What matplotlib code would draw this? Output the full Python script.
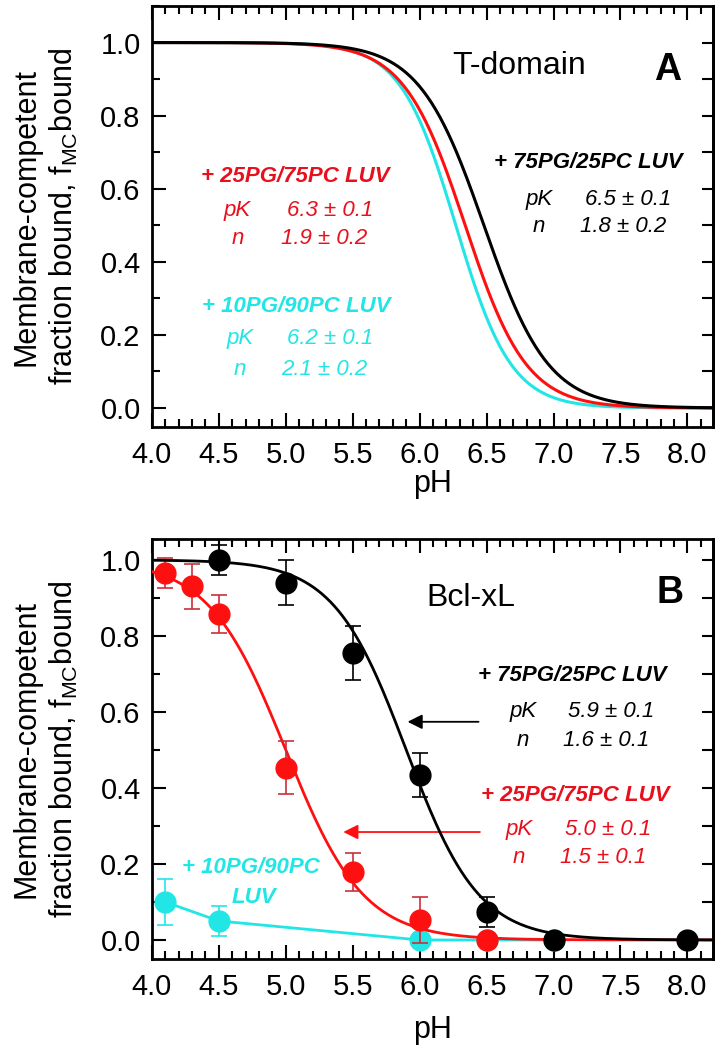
import numpy as np
import matplotlib
matplotlib.use("Agg")
import matplotlib.pyplot as plt
from matplotlib.ticker import MultipleLocator

plt.rcParams["font.family"] = ["Liberation Sans", "DejaVu Sans"]
plt.rcParams["mathtext.fontset"] = "custom"
plt.rcParams["mathtext.rm"] = "Liberation Sans"
plt.rcParams["mathtext.it"] = "Liberation Sans:italic"

RED = "#ff1010"
RED_TXT = "#e8101c"
CYAN = "#22e6e6"

# panel A: curve midpoints / slopes as drawn (T-domain)
pk_a = [6.48, 6.34, 6.27]
n_a = [1.8, 1.9, 2.1]
colors_a = ["black", RED, CYAN]

# panel B: Bcl-xL data
ph_black = [4.5, 5.0, 5.5, 6.0, 6.5, 7.0, 8.0]
f_black = [1.0, 0.94, 0.755, 0.434, 0.074, 0.0, 0.0]
e_black = [0.04, 0.06, 0.07, 0.058, 0.04, 0.0, 0.0]

ph_red = [4.1, 4.3, 4.5, 5.0, 5.5, 6.0, 6.5]
f_red = [0.966, 0.93, 0.858, 0.453, 0.18, 0.053, 0.0]
e_red = [0.04, 0.06, 0.05, 0.07, 0.05, 0.06, 0.0]

ph_cyan = [4.1, 4.5, 6.0, 6.5, 7.0]
f_cyan = [0.10, 0.05, 0.0, 0.0, 0.0]
e_cyan = [0.06, 0.04, 0.0, 0.0, 0.0]

pk_b = [5.9, 5.0]
n_b = [1.6, 1.5]


def hill(ph, pk, n):
    return 1.0 / (1.0 + 10 ** (n * (ph - pk)))


def style_axes(ax, ylim):
    ax.set_xlim(4.0, 8.19)
    ax.set_ylim(*ylim)
    ax.xaxis.set_major_locator(MultipleLocator(0.5))
    ax.xaxis.set_minor_locator(MultipleLocator(0.1))
    ax.yaxis.set_major_locator(MultipleLocator(0.2))
    ax.yaxis.set_minor_locator(MultipleLocator(0.1))
    ax.xaxis.set_major_formatter("{x:.1f}")
    ax.yaxis.set_major_formatter("{x:.1f}")
    ax.tick_params(which="both", direction="in", top=True, right=False,
                   width=1.5, labelsize=21)
    ax.tick_params(which="major", length=10)
    ax.tick_params(which="minor", length=5.5)
    ax.tick_params(axis="y", pad=8)
    ax.tick_params(axis="x", pad=10)
    for sp in ax.spines.values():
        sp.set_linewidth(2)
    sec = ax.secondary_yaxis("right")
    sec.set_yticks(np.arange(0, 1.01, 0.1))
    sec.tick_params(direction="in", length=8, width=1.5, labelright=False)
    sec.spines["right"].set_linewidth(2)
    ax.set_ylabel("Membrane-competent\nfraction bound, f$_{\\mathrm{MC}}$bound",
                  fontsize=22, linespacing=1.25)
    ax.yaxis.set_label_coords(-0.128, 0.5)


def param_block(ax, x_lab, y_lab, label, x_k, x_v, y_k, y_n, pk_txt, n_txt, color):
    ax.text(x_lab, y_lab, label, color=color, fontsize=16, fontweight="bold",
            fontstyle="italic", ha="center", va="center")
    ax.text(x_k, y_k, "pK", color=color, fontsize=16, fontstyle="italic",
            ha="center", va="center")
    ax.text(x_v, y_k, pk_txt, color=color, fontsize=16, fontstyle="italic",
            ha="center", va="center")
    ax.text(x_k, y_n, "n", color=color, fontsize=16, fontstyle="italic",
            ha="center", va="center")
    ax.text(x_v - 0.04, y_n, n_txt, color=color, fontsize=16, fontstyle="italic",
            ha="center", va="center")


fig = plt.figure(figsize=(7.23, 10.5), dpi=100)
ax_a = fig.add_axes([0.210, 0.5933, 0.776, 0.401])
ax_b = fig.add_axes([0.210, 0.0867, 0.776, 0.400])

# ---- panel A
ph = np.linspace(4.0, 8.19, 400)
for pk, n, c in zip(pk_a[::-1], n_a[::-1], colors_a[::-1]):
    ax_a.plot(ph, hill(ph, pk, n), color=c, lw=2.2)
style_axes(ax_a, (-0.052, 1.10))
ax_a.set_xlabel("pH", fontsize=22, labelpad=0)

ax_a.text(6.74, 0.937, "T-domain", fontsize=23, ha="center", va="center")
ax_a.text(7.85, 0.926, "A", fontsize=27, fontweight="bold", ha="center", va="center")
param_block(ax_a, 7.26, 0.672, "+ 75PG/25PC LUV", 6.89, 7.56, 0.570, 0.496,
            "6.5 ± 0.1", "1.8 ± 0.2", "black")
param_block(ax_a, 5.07, 0.633, "+ 25PG/75PC LUV", 4.64, 5.33, 0.54, 0.463,
            "6.3 ± 0.1", "1.9 ± 0.2", RED_TXT)
param_block(ax_a, 5.08, 0.279, "+ 10PG/90PC LUV", 4.66, 5.33, 0.189, 0.105,
            "6.2 ± 0.1", "2.1 ± 0.2", CYAN)

# ---- panel B
ax_b.plot(ph_cyan, f_cyan, color=CYAN, lw=2.0, zorder=2)
ax_b.errorbar(ph_cyan, f_cyan, yerr=e_cyan, fmt="o", ms=15, color=CYAN,
              ecolor=CYAN, elinewidth=1.2, capsize=6, capthick=1.2, zorder=3)
ax_b.plot(ph, hill(ph, pk_b[1], n_b[1]), color=RED, lw=2.0, zorder=4)
ax_b.errorbar(ph_red, f_red, yerr=e_red, fmt="o", ms=15, color=RED,
              ecolor="#c8303c", elinewidth=1.2, capsize=6, capthick=1.2, zorder=5)
ax_b.plot(ph, hill(ph, pk_b[0], n_b[0]), color="black", lw=2.0, zorder=6)
ax_b.errorbar(ph_black, f_black, yerr=e_black, fmt="o", ms=15, color="black",
              ecolor="black", elinewidth=1.2, capsize=6, capthick=1.2, zorder=7)
style_axes(ax_b, (-0.05, 1.055))
ax_b.set_xlabel("pH", fontsize=22, labelpad=10)

ax_b.text(6.385, 0.90, "Bcl-xL", fontsize=23, ha="center", va="center")
ax_b.text(7.87, 0.913, "B", fontsize=27, fontweight="bold", ha="center", va="center")
param_block(ax_b, 7.14, 0.697, "+ 75PG/25PC LUV", 6.77, 7.43, 0.60, 0.526,
            "5.9 ± 0.1", "1.6 ± 0.1", "black")
param_block(ax_b, 7.16, 0.379, "+ 25PG/75PC LUV", 6.74, 7.41, 0.29, 0.216,
            "5.0 ± 0.1", "1.5 ± 0.1", RED_TXT)
ax_b.text(4.74, 0.19, "+ 10PG/90PC", color=CYAN, fontsize=16, fontweight="bold",
          fontstyle="italic", ha="center", va="center")
ax_b.text(4.76, 0.113, "LUV", color=CYAN, fontsize=16, fontweight="bold",
          fontstyle="italic", ha="center", va="center")

ax_b.annotate("", xy=(5.91, 0.574), xytext=(6.44, 0.574),
              arrowprops=dict(arrowstyle="-|>", color="black", lw=1.3,
                              mutation_scale=22, shrinkA=0, shrinkB=0))
ax_b.annotate("", xy=(5.43, 0.284), xytext=(6.45, 0.284),
              arrowprops=dict(arrowstyle="-|>", color=RED, lw=1.3,
                              mutation_scale=22, shrinkA=0, shrinkB=0))

fig.savefig("out.png", dpi=100)
